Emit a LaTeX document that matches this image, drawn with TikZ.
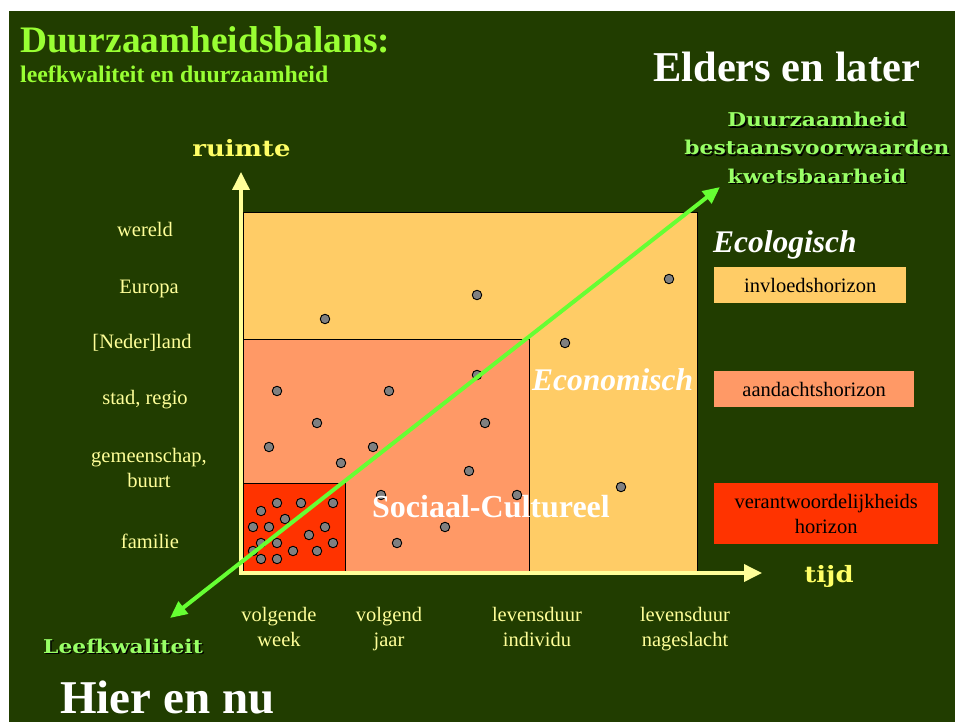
\documentclass[tikz,border=0pt]{standalone}
\usepackage{fontspec}
\setmainfont{Liberation Serif}
\newfontfamily\slabfont{DejaVu Serif}[FakeStretch=1.15]
\usetikzlibrary{arrows.meta}
\definecolor{bggreen}{RGB}{33,61,0}
\definecolor{titlegreen}{RGB}{153,255,51}
\definecolor{lightgreen}{RGB}{153,255,102}
\definecolor{arrowgreen}{RGB}{102,255,51}
\definecolor{paleyellow}{RGB}{255,255,153}
\definecolor{yellowlab}{RGB}{255,255,102}
\definecolor{ecobox}{RGB}{255,204,102}
\definecolor{socbox}{RGB}{255,153,102}
\definecolor{redbox}{RGB}{255,51,0}
\definecolor{dotgray}{RGB}{128,128,128}
\newcommand\shadownode[4]{%
  \node[#1, text=black] (#2-sh) at ([shift={(1.5,1.5)}]#3) {#4};
  \node[#1] (#2) at (#3) {#4};}
\begin{document}
\begin{tikzpicture}[x=1pt,y=-1pt,
  boxline/.style={draw=black, line width=1pt},
  dot/.style={circle, fill=dotgray, draw=black, line width=0.9pt, minimum size=9.5pt, inner sep=0pt},
  axisline/.style={draw=paleyellow, line width=3.6pt, {Triangle[length=18pt,width=17pt]}-{Triangle[length=18pt,width=17pt]}},
  greenarrow/.style={draw=arrowgreen, line width=4pt, {Triangle[length=17pt,width=15pt]}-{Triangle[length=17pt,width=15pt]}},
  lab/.style={text=paleyellow, font=\fontsize{20.5}{25}\selectfont, align=center, inner sep=0pt, anchor=base},
  legbox/.style={anchor=north west, inner sep=0pt, text=black, align=center, font=\fontsize{20.5}{25}\selectfont},
  slab/.style={font=\slabfont\bfseries\fontsize{19}{28}\selectfont, text=lightgreen, align=center, inner sep=0pt},
  axislab/.style={font=\slabfont\bfseries\fontsize{22.5}{28}\selectfont, text=yellowlab, inner sep=0pt, anchor=base},
  bigwhite/.style={text=white, font=\bfseries, inner sep=0pt, anchor=base west}
]
\fill[white] (0,0) rectangle (955,722);
\useasboundingbox (0,0) rectangle (955,722);
\fill[bggreen] (9,11) rectangle (955,722);

% horizon boxes
\draw[boxline, fill=ecobox] (243,212) rectangle (697,572);
\draw[boxline, fill=socbox] (243,339) rectangle (529,572);
\draw[boxline, fill=redbox] (243,483) rectangle (345,572);

% dots
\foreach \p [count=\i] in {(325,319),(477,295),(669,279),(565,343),(477,375),(277,391),(389,391),
  (317,423),(485,423),(269,447),(373,447),(341,463),(469,471),(381,495),(517,495),(621,487),
  (445,527),(397,543),
  (261,511),(277,503),(301,503),(333,503),(285,519),(253,527),(269,527),(325,527),(309,535),
  (261,543),(277,543),(333,543),(253,551),(293,551),(317,551),(261,559),(277,559)}
  \node[dot] (d\i) at \p {};

% axes
\coordinate (O) at (241,573);
\coordinate (ytip) at (241,172);
\coordinate (xtip) at (762,573);
\draw[axisline] (ytip) -- (O) -- (xtip);

% region labels
\node[text=white, font=\bfseries\itshape\fontsize{31.5}{36}\selectfont, inner sep=0pt, anchor=base west] (econ) at (532,390) {Economisch};
\node[text=white, font=\bfseries\fontsize{32}{36}\selectfont, inner sep=0pt, anchor=base west] (soc) at (372,517) {Sociaal-Cultureel};

% diagonal arrow
\coordinate (lq) at (170,618);
\coordinate (dz) at (720,187);
\draw[greenarrow] (lq) -- (dz);

% titles
\node[text=titlegreen, font=\bfseries\fontsize{37.4}{40}\selectfont, inner sep=0pt, anchor=base west] (title) at (20,53) {Duurzaamheidsbalans:};
\node[text=titlegreen, font=\bfseries\fontsize{23.8}{26}\selectfont, inner sep=0pt, anchor=base west] (subtitle) at (20,83) {leefkwaliteit en duurzaamheid};
\node[bigwhite, font=\bfseries\fontsize{42.5}{44}\selectfont] (elders) at (653,82) {Elders en later};
\node[bigwhite, font=\bfseries\fontsize{47}{50}\selectfont] (hier) at (60,713) {Hier en nu};

\shadownode{slab, anchor=base}{duurz}{817,183}{Duurzaamheid\\bestaansvoorwaarden\\kwetsbaarheid}
\shadownode{slab, anchor=base west}{leef}{43,653}{Leefkwaliteit}

\node[axislab] (ruimte) at (241.5,157) {ruimte};
\node[axislab] (tijd) at (829,582) {tijd};

% space labels
\node[lab] (wereld) at (145,236) {wereld};
\node[lab] (europa) at (149,293) {Europa};
\node[lab] (nl) at (142,348) {[Neder]land};
\node[lab] (stad) at (145,404) {stad, regio};
\node[lab] (gem) at (149,487) {gemeenschap,\\buurt};
\node[lab] (fam) at (150,548) {familie};

% time labels
\node[lab] (week) at (279,646) {volgende\\week};
\node[lab] (jaar) at (389,646) {volgend\\jaar};
\node[lab] (indiv) at (537,646) {levensduur\\individu};
\node[lab] (nage) at (685,646) {levensduur\\nageslacht};

% legend
\node[text=white, font=\bfseries\itshape\fontsize{31.5}{36}\selectfont, inner sep=0pt, anchor=base west] (ecol) at (713,252) {Ecologisch};
\node[legbox, fill=ecobox, minimum width=192pt, minimum height=36pt] (infl) at (714,267) {invloedshorizon};
\node[legbox, fill=socbox, minimum width=200pt, minimum height=36pt] (aand) at (714,371) {aandachtshorizon};
\node[legbox, fill=redbox, minimum width=224pt, minimum height=61pt] (verant) at (714,483) {verantwoordelijkheids\\horizon};
\end{tikzpicture}
\end{document}
